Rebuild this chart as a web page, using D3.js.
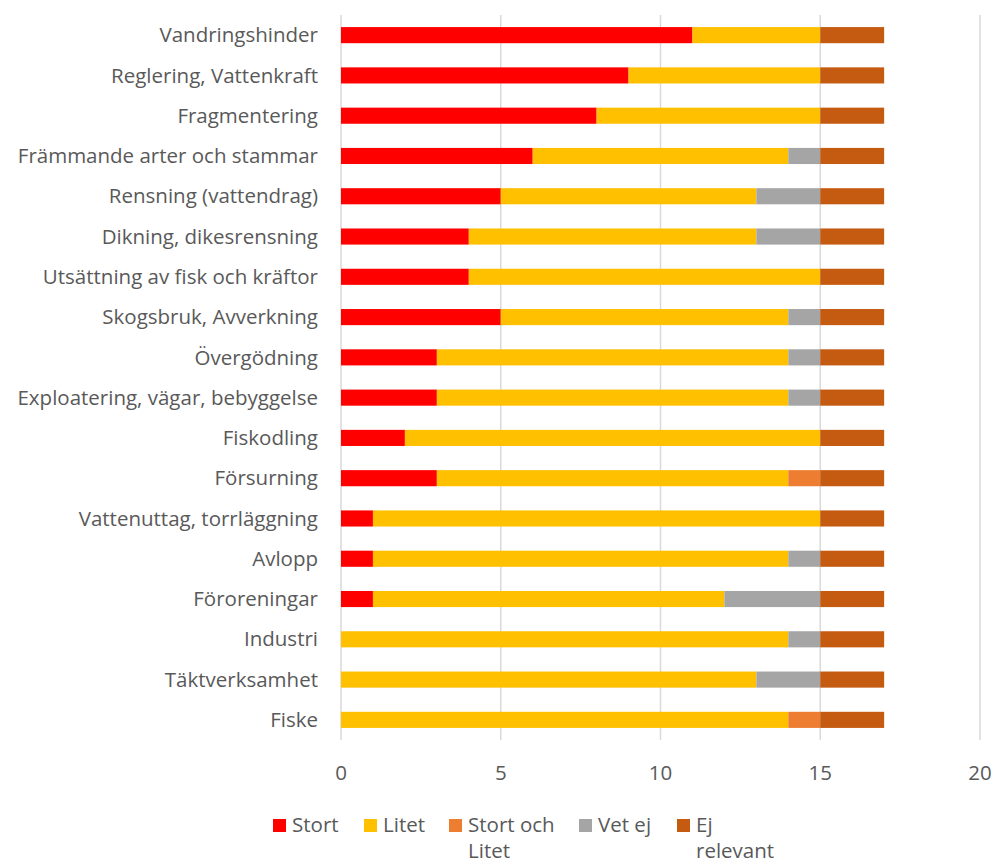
<!DOCTYPE html>
<html>
<head>
<meta charset="utf-8">
<script src="https://cdn.jsdelivr.net/npm/d3@7"></script>
<style>
  body { margin: 0; background: #fff; }
  text { font-family: "Open Sans", sans-serif; fill: #595959; }
</style>
</head>
<body>
<div id="chart"></div>
<script>
var categories = ["Vandringshinder", "Reglering, Vattenkraft", "Fragmentering",
  "Främmande arter och stammar", "Rensning (vattendrag)", "Dikning, dikesrensning",
  "Utsättning av fisk och kräftor", "Skogsbruk, Avverkning", "Övergödning",
  "Exploatering, vägar, bebyggelse", "Fiskodling", "Försurning",
  "Vattenuttag, torrläggning", "Avlopp", "Föroreningar", "Industri",
  "Täktverksamhet", "Fiske"];

var stort       = [11, 9, 8, 6, 5, 4, 4, 5, 3, 3, 2, 3, 1, 1, 1, 0, 0, 0];
var litet       = [4, 6, 7, 8, 8, 9, 11, 9, 11, 11, 13, 11, 14, 13, 11, 14, 13, 14];
var stortLitet  = [0, 0, 0, 0, 0, 0, 0, 0, 0, 0, 0, 1, 0, 0, 0, 0, 0, 1];
var vetEj       = [0, 0, 0, 1, 2, 2, 0, 1, 1, 1, 0, 0, 0, 1, 3, 1, 2, 0];
var ejRelevant  = [2, 2, 2, 2, 2, 2, 2, 2, 2, 2, 2, 2, 2, 2, 2, 2, 2, 2];

var seriesNames = ["Stort", "Litet", "Stort och Litet", "Vet ej", "Ej relevant"];
var seriesColors = ["#ff0000", "#ffc000", "#ed7d31", "#a5a5a5", "#c55a11"];
var xTicks = [0, 5, 10, 15, 20];

var width = 994, height = 864;
var margin = {top: 15, right: 14, bottom: 124, left: 341};

var svg = d3.select("#chart").append("svg")
  .attr("width", width)
  .attr("height", height);

var rows = categories.map(function(c, i) {
  return {cat: c, vals: [stort[i], litet[i], stortLitet[i], vetEj[i], ejRelevant[i]]};
});

var x = d3.scaleLinear().domain([0, 20]).range([margin.left, 980]);
var y = d3.scaleBand().domain(categories)
  .range([margin.top, height - margin.bottom]).paddingInner(0.6).paddingOuter(0.3);

// gridlines
svg.append("g").selectAll("line")
  .data(xTicks).enter().append("line")
    .attr("x1", function(d) { return x(d); })
    .attr("x2", function(d) { return x(d); })
    .attr("y1", margin.top)
    .attr("y2", height - margin.bottom)
    .attr("stroke", "#d9d9d9")
    .attr("stroke-width", 1.5);

var stack = d3.stack().keys([0, 1, 2, 3, 4]).value(function(d, k) { return d.vals[k]; });
var layers = stack(rows);

svg.append("g").selectAll("g")
  .data(layers).enter().append("g")
    .attr("fill", function(d, i) { return seriesColors[i]; })
  .selectAll("rect")
  .data(function(d) { return d; }).enter().append("rect")
    .attr("x", function(d) { return x(d[0]); })
    .attr("width", function(d) { return x(d[1]) - x(d[0]); })
    .attr("y", function(d) { return y(d.data.cat); })
    .attr("height", y.bandwidth());

// category labels
svg.append("g").selectAll("text")
  .data(categories).enter().append("text")
    .attr("x", 318)
    .attr("y", function(d) { return y(d) + y.bandwidth() / 2; })
    .attr("dy", "0.35em")
    .attr("text-anchor", "end")
    .style("font-size", "20.5px")
    .text(function(d) { return d; });

// x tick labels
svg.append("g").selectAll("text")
  .data(xTicks).enter().append("text")
    .attr("x", function(d) { return x(d); })
    .attr("y", 780)
    .attr("text-anchor", "middle")
    .style("font-size", "20.5px")
    .text(function(d) { return d; });

// legend
var legendX = [273, 364, 449, 579, 677];
var legendLines = [["Stort"], ["Litet"], ["Stort och", "Litet"], ["Vet ej"], ["Ej", "relevant"]];
var legend = svg.append("g").selectAll("g")
  .data(seriesNames).enter().append("g")
    .attr("transform", function(d, i) { return "translate(" + legendX[i] + ",819)"; });

legend.append("rect")
  .attr("width", 13).attr("height", 13)
  .attr("fill", function(d, i) { return seriesColors[i]; });

legend.each(function(d, i) {
  var t = d3.select(this).append("text")
    .attr("x", 19)
    .attr("y", 13)
    .style("font-size", "20.5px");
  legendLines[i].forEach(function(l, j) {
    t.append("tspan").attr("x", 19).attr("dy", j === 0 ? 0 : 26).text(l);
  });
});
</script>
</body>
</html>
